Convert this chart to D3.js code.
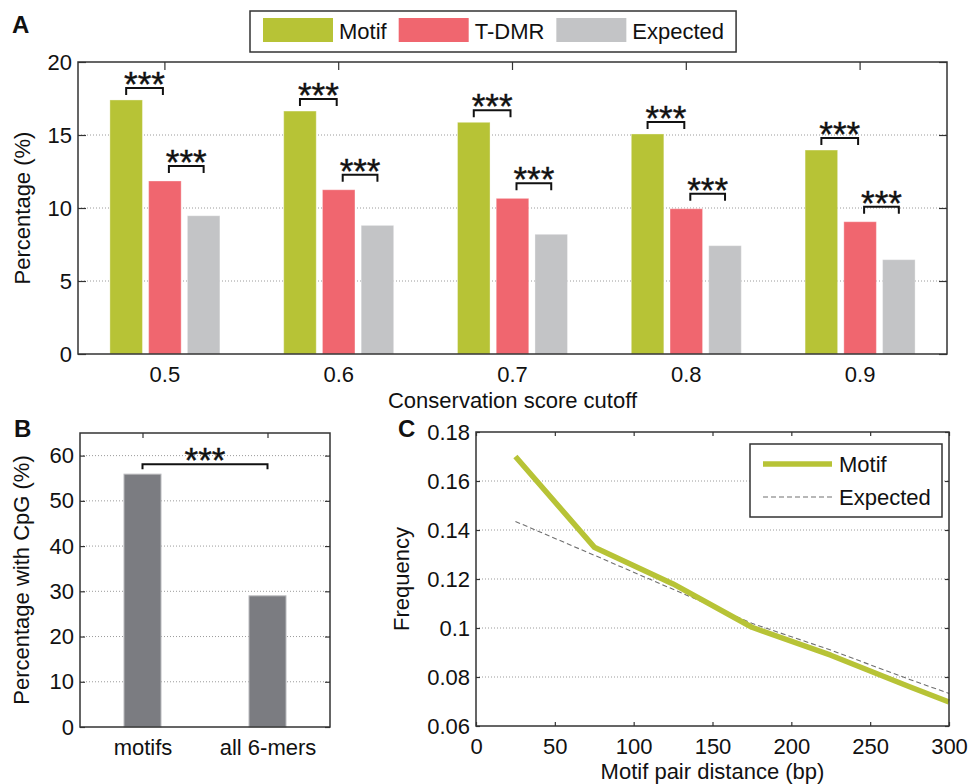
<!DOCTYPE html>
<html>
<head>
<meta charset="utf-8">
<script src="https://cdn.jsdelivr.net/npm/d3@7"></script>
<style>
body { margin: 0; background: #fff; }
svg text { font-family: "Liberation Sans", Arial, sans-serif; fill: #111; }
</style>
</head>
<body>
<svg id="fig" width="971" height="784"></svg>
<script>
// panel A data
var cutoffs = ["0.5", "0.6", "0.7", "0.8", "0.9"];
var seriesNames = ["Motif", "T-DMR", "Expected"];
var motifPct = [17.4, 16.64, 15.87, 15.07, 13.97];
var tdmrPct = [11.85, 11.25, 10.66, 9.95, 9.06];
var expectedPct = [9.47, 8.81, 8.2, 7.42, 6.46];
var pctTicks = [0, 5, 10, 15, 20];

// panel B data
var cpgCategories = ["motifs", "all 6-mers"];
var cpgPct = [55.9, 29.0];
var cpgTicks = [0, 10, 20, 30, 40, 50, 60];

// panel C data
var distance = [25, 75, 125, 175, 225, 275, 300];
var motifFreq = [0.170, 0.133, 0.118, 0.1003, 0.0889, 0.076, 0.0698];
var expectedFreq = [0.1435, 0.1297, 0.1158, 0.1019, 0.091, 0.079, 0.0733];
var freqTicks = [0.06, 0.08, 0.1, 0.12, 0.14, 0.16, 0.18];
var distTicks = [0, 50, 100, 150, 200, 250, 300];

var svg = d3.select("#fig");
var axisColor = "#333";
var fontFam = "'Liberation Sans', Arial, sans-serif";
var colors = { "Motif": "#b7c336", "T-DMR": "#f0666f", "Expected": "#c3c4c6" };

function grid(g, y, vals, x1, x2) {
    g.append("g").selectAll("line").data(vals).join("line")
        .attr("x1", x1).attr("x2", x2)
        .attr("y1", function (d) { return y(d); })
        .attr("y2", function (d) { return y(d); })
        .attr("stroke", "#9a9a9a").attr("stroke-width", 1)
        .attr("stroke-dasharray", "1,2");
}

function styleAxis(sel) {
    sel.attr("font-size", 22).attr("font-family", fontFam).attr("color", axisColor);
    sel.select(".domain").remove();
    sel.selectAll(".tick line").attr("stroke-width", 1.2);
    sel.selectAll(".tick text").attr("fill", "#111");
}

function frame(g, box) {
    g.append("rect")
        .attr("x", box.left).attr("y", box.top)
        .attr("width", box.right - box.left).attr("height", box.bottom - box.top)
        .attr("fill", "none").attr("stroke", axisColor).attr("stroke-width", 1.5);
}

function bracket(g, x1, x2, yLine, leg) {
    g.append("path")
        .attr("d", "M" + x1 + "," + (yLine + leg) + "V" + yLine + "H" + x2 + "V" + (yLine + leg))
        .attr("fill", "none").attr("stroke", "#111").attr("stroke-width", 2);
    g.append("text")
        .attr("x", (x1 + x2) / 2).attr("y", yLine + 8)
        .attr("text-anchor", "middle").attr("font-size", 35)
        .attr("stroke", "#111").attr("stroke-width", 0.4)
        .text("***");
}

function panelLetter(x, y, t) {
    svg.append("text").attr("x", x).attr("y", y)
        .attr("font-size", 24).attr("font-weight", "bold").text(t);
}

function yTitle(x, y, t) {
    svg.append("text")
        .attr("transform", "translate(" + x + "," + y + ") rotate(-90)")
        .attr("text-anchor", "middle").attr("font-size", 22).text(t);
}

// ---------- panel A ----------
var A = { left: 78, top: 62, right: 947, bottom: 354 };
var xA = d3.scaleBand().domain(cutoffs).range([A.left, A.right]);
var xSub = d3.scaleBand().domain(seriesNames).range([-55, 55]).paddingInner(0.16);
var yA = d3.scaleLinear().domain([0, 20]).range([A.bottom, A.top]);
var gA = svg.append("g");

grid(gA, yA, pctTicks.filter(function (d) { return d > 0 && d < 20; }), A.left, A.right);

var rowsA = cutoffs.map(function (c, i) {
    return { cutoff: c, values: [motifPct[i], tdmrPct[i], expectedPct[i]] };
});
var groups = gA.selectAll("g.grp").data(rowsA).join("g")
    .attr("class", "grp")
    .attr("transform", function (d) { return "translate(" + (xA(d.cutoff) + xA.bandwidth() / 2) + ",0)"; });
groups.selectAll("rect")
    .data(function (d) { return seriesNames.map(function (s, j) { return { s: s, v: d.values[j] }; }); })
    .join("rect")
    .attr("x", function (d) { return xSub(d.s); })
    .attr("width", xSub.bandwidth())
    .attr("y", function (d) { return yA(d.v); })
    .attr("height", function (d) { return yA(0) - yA(d.v); })
    .attr("fill", function (d) { return colors[d.s]; })
    .attr("stroke", "#fff").attr("stroke-opacity", 0.35).attr("stroke-width", 1);

var half = xSub.bandwidth() / 2;
rowsA.forEach(function (d) {
    var c = xA(d.cutoff) + xA.bandwidth() / 2;
    var cM = c + xSub("Motif") + half, cT = c + xSub("T-DMR") + half, cE = c + xSub("Expected") + half;
    bracket(gA, cM, cT - 2, yA(d.values[0]) - 12, 7);
    bracket(gA, cT + 4, cE, yA(d.values[1]) - 15, 7);
});

gA.append("g").attr("transform", "translate(" + A.left + ",0)")
    .call(d3.axisLeft(yA).tickValues(pctTicks).tickSize(-8).tickPadding(6)).call(styleAxis);
gA.append("g").attr("transform", "translate(" + A.right + ",0)")
    .call(d3.axisRight(yA).tickValues(pctTicks).tickSize(-8).tickFormat("")).call(styleAxis);
gA.append("g").attr("transform", "translate(0," + A.top + ")")
    .call(d3.axisTop(xA).tickSize(-8).tickFormat("")).call(styleAxis);
gA.append("g").attr("transform", "translate(0," + A.bottom + ")")
    .call(d3.axisBottom(xA).tickSize(0).tickPadding(12)).call(styleAxis);
frame(gA, A);

svg.append("text").attr("x", (A.left + A.right) / 2).attr("y", 408)
    .attr("text-anchor", "middle").attr("font-size", 22).text("Conservation score cutoff");
yTitle(30, (A.top + A.bottom) / 2, "Percentage (%)");
panelLetter(12, 33, "A");

// legend A
var legA = svg.append("g");
var legBox = legA.append("rect").attr("fill", "#fff").attr("stroke", axisColor).attr("stroke-width", 1.5);
var cursor = 263;
seriesNames.forEach(function (s) {
    legA.append("rect").attr("x", cursor).attr("y", 18).attr("width", 70).attr("height", 24)
        .attr("fill", colors[s]);
    var t = legA.append("text").attr("x", cursor + 76).attr("y", 39)
        .attr("font-size", 22).text(s);
    cursor += 76 + t.node().getComputedTextLength() + 12;
});
legBox.attr("x", 250).attr("y", 11).attr("width", cursor - 250).attr("height", 41);

// ---------- panel B ----------
var B = { left: 80, top: 433, right: 330, bottom: 727 };
var xB = d3.scalePoint().domain(cpgCategories).range([B.left, B.right]).padding(0.5);
var yB = d3.scaleLinear().domain([0, 65]).range([B.bottom, B.top]);
var gB = svg.append("g");
grid(gB, yB, cpgTicks.filter(function (d) { return d > 0; }), B.left, B.right);
var bwB = 37;
gB.selectAll("rect.bar").data(cpgCategories).join("rect")
    .attr("class", "bar")
    .attr("x", function (d) { return xB(d) - bwB / 2; })
    .attr("width", bwB)
    .attr("y", function (d, i) { return yB(cpgPct[i]); })
    .attr("height", function (d, i) { return yB(0) - yB(cpgPct[i]); })
    .attr("fill", "#7b7c81").attr("stroke", "#b9babd").attr("stroke-width", 1);
bracket(gB, xB(cpgCategories[0]), xB(cpgCategories[1]), yB(cpgPct[0]) - 10, 5);

gB.append("g").attr("transform", "translate(" + B.left + ",0)")
    .call(d3.axisLeft(yB).tickValues(cpgTicks).tickSize(-5).tickPadding(6)).call(styleAxis);
gB.append("g").attr("transform", "translate(" + B.right + ",0)")
    .call(d3.axisRight(yB).tickValues(cpgTicks).tickSize(-5).tickFormat("")).call(styleAxis);
gB.append("g").attr("transform", "translate(0," + B.top + ")")
    .call(d3.axisTop(xB).tickSize(-5).tickFormat("")).call(styleAxis);
gB.append("g").attr("transform", "translate(0," + B.bottom + ")")
    .call(d3.axisBottom(xB).tickSize(0).tickPadding(12)).call(styleAxis);
frame(gB, B);
yTitle(29, (B.top + B.bottom) / 2, "Percentage with CpG (%)");
panelLetter(14, 437, "B");

// ---------- panel C ----------
var C = { left: 476, top: 432, right: 949, bottom: 726 };
var xC = d3.scaleLinear().domain([0, 300]).range([C.left, C.right]);
var yC = d3.scaleLinear().domain([0.06, 0.18]).range([C.bottom, C.top]);
var gC = svg.append("g");
grid(gC, yC, freqTicks.filter(function (d) { return d > 0.061 && d < 0.179; }), C.left, C.right);

var lineC = d3.line().x(function (d) { return xC(d[0]); }).y(function (d) { return yC(d[1]); });
gC.append("path")
    .datum(distance.map(function (d, i) { return [d, expectedFreq[i]]; }))
    .attr("d", lineC).attr("fill", "none")
    .attr("stroke", "#707070").attr("stroke-width", 1.1).attr("stroke-dasharray", "5,3");
gC.append("path")
    .datum(distance.map(function (d, i) { return [d, motifFreq[i]]; }))
    .attr("d", lineC).attr("fill", "none")
    .attr("stroke", colors["Motif"]).attr("stroke-width", 5.5).attr("stroke-linejoin", "round");

gC.append("g").attr("transform", "translate(" + C.left + ",0)")
    .call(d3.axisLeft(yC).tickValues(freqTicks).tickSize(-4).tickPadding(6).tickFormat(d3.format(""))).call(styleAxis);
gC.append("g").attr("transform", "translate(" + C.right + ",0)")
    .call(d3.axisRight(yC).tickValues(freqTicks).tickSize(-4).tickFormat("")).call(styleAxis);
gC.append("g").attr("transform", "translate(0," + C.top + ")")
    .call(d3.axisTop(xC).tickValues(distTicks).tickSize(-4).tickFormat("")).call(styleAxis);
gC.append("g").attr("transform", "translate(0," + C.bottom + ")")
    .call(d3.axisBottom(xC).tickValues(distTicks).tickSize(-4).tickPadding(12)).call(styleAxis);
frame(gC, C);

svg.append("text").attr("x", (C.left + C.right) / 2).attr("y", 779)
    .attr("text-anchor", "middle").attr("font-size", 22).text("Motif pair distance (bp)");
yTitle(409, (C.top + C.bottom) / 2, "Frequency");
panelLetter(398, 437, "C");

// legend C
var legC = svg.append("g");
legC.append("rect").attr("x", 750).attr("y", 444).attr("width", 192).attr("height", 73)
    .attr("fill", "#fff").attr("stroke", axisColor).attr("stroke-width", 1.5);
legC.append("line").attr("x1", 763).attr("x2", 832).attr("y1", 464).attr("y2", 464)
    .attr("stroke", colors["Motif"]).attr("stroke-width", 5.5);
legC.append("line").attr("x1", 763).attr("x2", 832).attr("y1", 497).attr("y2", 497)
    .attr("stroke", "#707070").attr("stroke-width", 1.1).attr("stroke-dasharray", "5,3");
legC.append("text").attr("x", 839).attr("y", 472).attr("font-size", 22).text("Motif");
legC.append("text").attr("x", 839).attr("y", 505).attr("font-size", 22).text("Expected");
</script>
</body>
</html>
